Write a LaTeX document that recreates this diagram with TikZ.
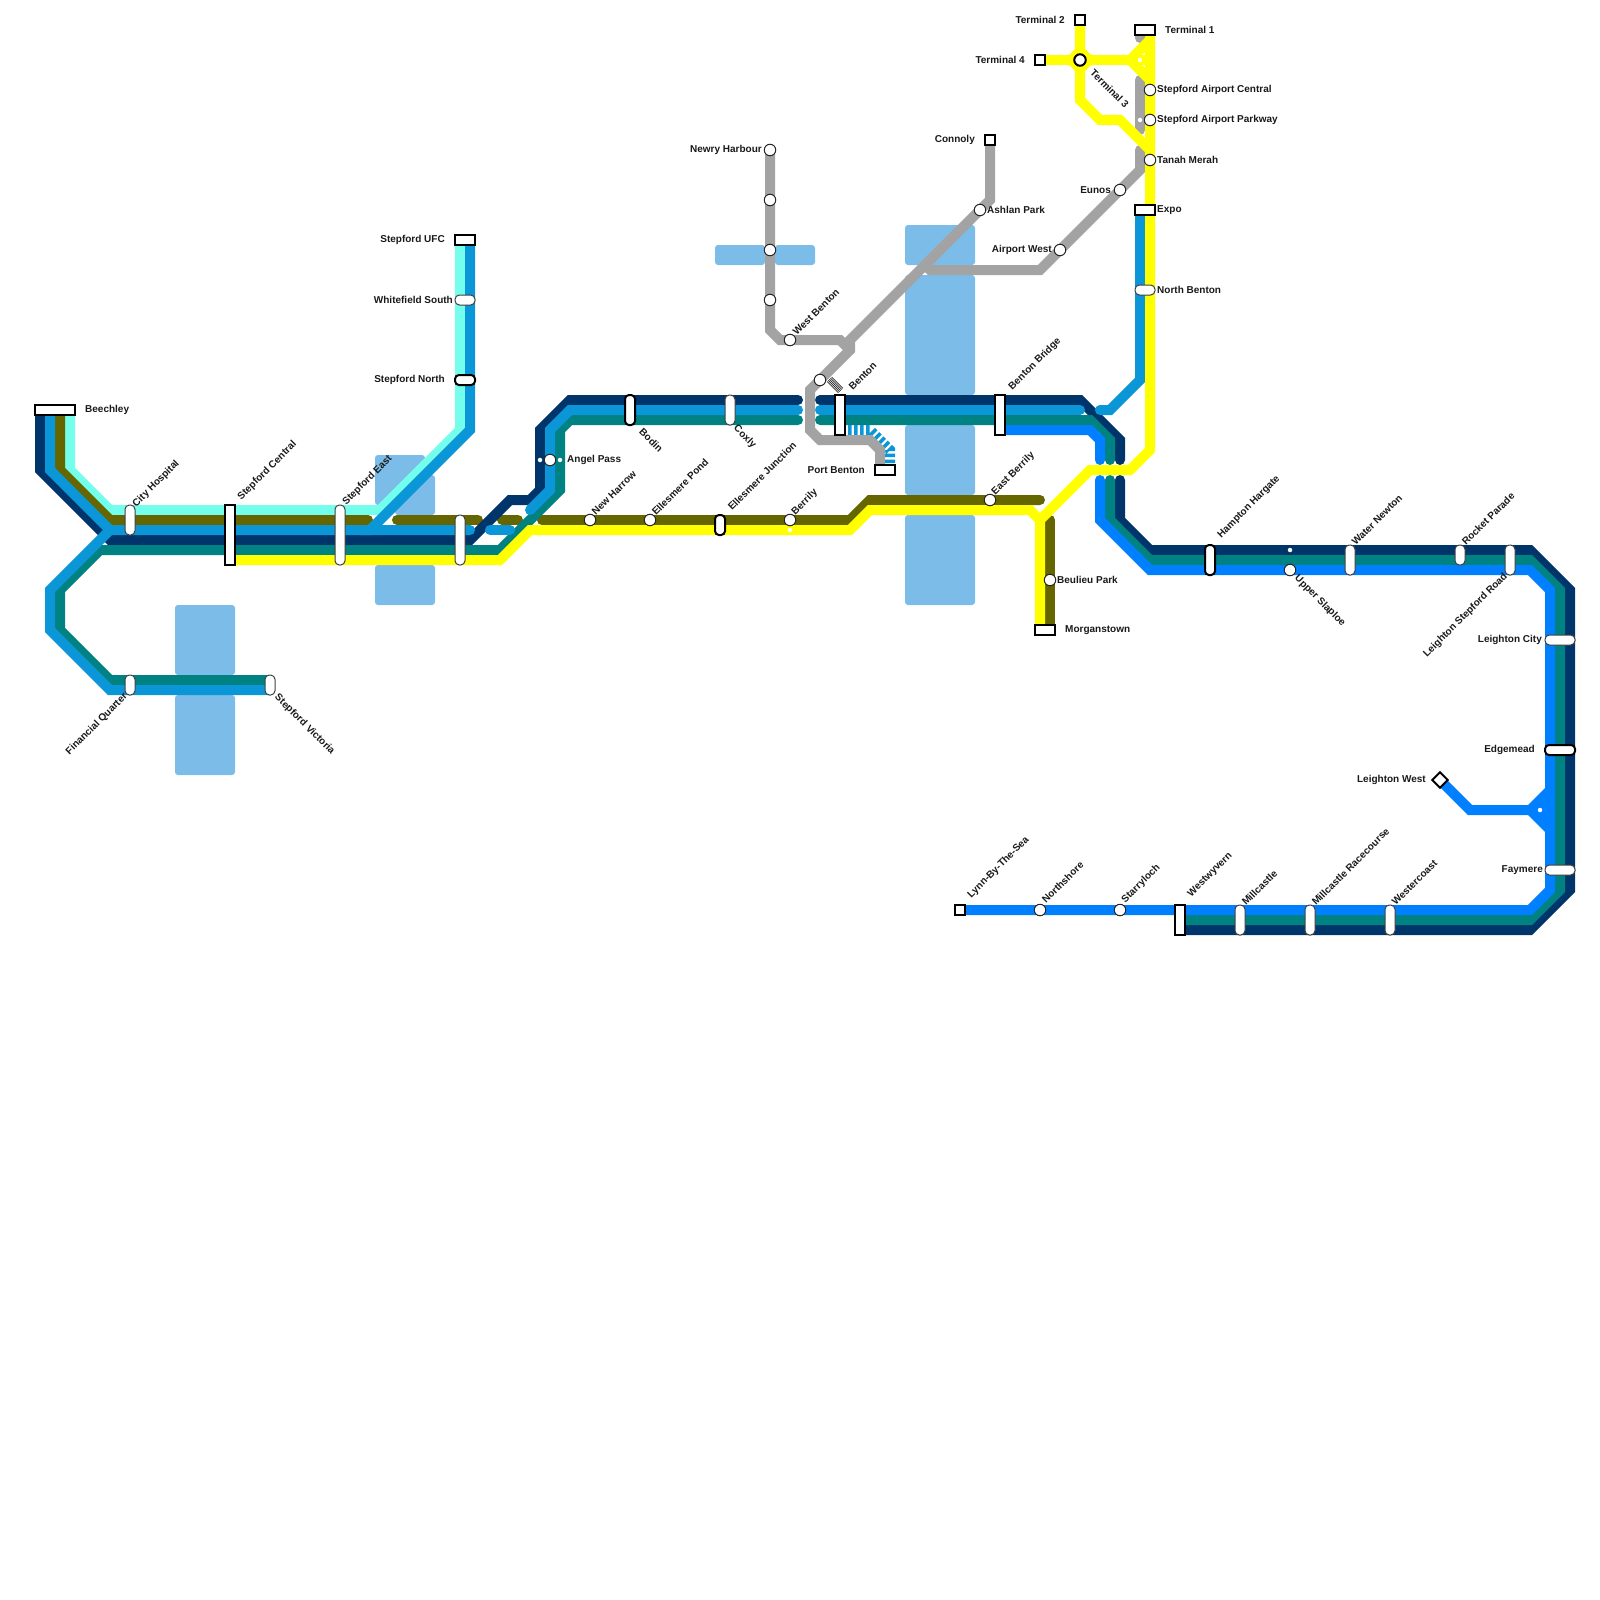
\documentclass[tikz,border=0pt]{standalone}
\usepackage{fontspec}
\setmainfont{Liberation Sans}
\definecolor{mapnavy}{RGB}{0,53,107}
\definecolor{mapblue}{RGB}{10,150,215}
\definecolor{mapbright}{RGB}{0,128,255}
\definecolor{mapolive}{RGB}{102,102,0}
\definecolor{mapaqua}{RGB}{115,255,235}
\definecolor{mapteal}{RGB}{0,130,130}
\definecolor{mapyellow}{RGB}{255,255,0}
\definecolor{mapgrey}{RGB}{163,163,163}
\definecolor{maplake}{RGB}{124,188,232}
\tikzset{
  ln/.style={draw=#1,line width=10pt,line cap=round,miter limit=10},
  lake/.style={fill=maplake,rounded corners=3pt},
  stnc/.style={circle,draw=black!85,line width=1pt,fill=white,minimum size=11.5pt,inner sep=0pt},
  stnt/.style={stnc,draw=black,line width=2pt},
  stnb/.style={rectangle,draw=black,line width=2pt,fill=white,inner sep=0pt},
  pill/.style={rectangle,rounded corners=4.4pt,draw=black!75,line width=1pt,fill=white,inner sep=0pt},
  pillk/.style={pill,rounded corners=3.9pt,draw=black,line width=2pt},
  wdot/.style={circle,fill=white,minimum size=4.5pt,inner sep=0pt},
  lbl/.style={font=\bfseries\fontsize{10}{10}\selectfont,text=black!90,inner sep=0pt},
  lblw/.style={lbl,anchor=west,yshift=-1pt},
  lble/.style={lbl,anchor=east,yshift=-1pt},
  lblup/.style={lbl,anchor=west,rotate=45,xshift=2pt},
  lbldn/.style={lbl,anchor=west,rotate=-45},
  lblex/.style={lbl,anchor=east,rotate=45},
}
\begin{document}
\begin{tikzpicture}[x=1pt,y=-1pt]
  \useasboundingbox (0,0) rectangle (1600,1600);
  % water
  \foreach \xa/\ya/\xb/\yb in {175/605/235/675, 175/695/235/775, 375/455/425/505,
      395/475/435/515, 375/565/435/605, 715/245/765/265, 775/245/815/265,
      905/225/975/265, 905/275/975/395, 905/425/975/495, 905/515/975/605}
    \fill[lake] (\xa,\ya) rectangle (\xb,\yb);

  % lines
  \draw[ln=mapaqua] (70,410) -- (70,470) -- (110,510) -- (380,510) -- (460,430) -- (460,240);
  \draw[ln=mapolive] (60,410) -- (60,470) -- (110,520) -- (368,520);
  \draw[ln=mapolive] (397,520) -- (478,520);
  \draw[ln=mapolive] (502,520) -- (518,520);
  \draw[ln=mapolive] (542,520) -- (850,520) -- (870,500) -- (1040,500);
  \draw[ln=mapolive] (1050,520) -- (1050,630);
  \draw[ln=mapnavy] (40,410) -- (40,470) -- (110,540) -- (470,540) -- (510,500) -- (530,500)
    -- (540,490) -- (540,430) -- (570,400) -- (798,400);
  \draw[ln=mapnavy] (820,400) -- (1080,400) -- (1120,440) -- (1120,460);
  \draw[ln=mapnavy] (1120,480) -- (1120,520) -- (1150,550) -- (1530,550) -- (1570,590)
    -- (1570,890) -- (1530,930) -- (1180,930);
  \draw[ln=mapteal] (500,550) -- (100,550) -- (60,590) -- (60,630) -- (110,680) -- (270,680);
  \draw[ln=mapteal] (500,550) -- (560,490) -- (560,430) -- (570,420) -- (798,420);
  \draw[ln=mapteal] (820,420) -- (1090,420) -- (1110,440) -- (1110,460);
  \draw[ln=mapteal] (1110,480) -- (1110,520) -- (1150,560) -- (1530,560) -- (1560,590)
    -- (1560,890) -- (1530,920) -- (1180,920);
  \draw[ln=mapblue] (50,410) -- (50,470) -- (110,530) -- (470,530);
  \draw[ln=mapblue] (270,690) -- (110,690) -- (50,630) -- (50,590) -- (110,530);
  \draw[ln=mapblue] (470,240) -- (470,430) -- (370,530) -- (360,530);
  \draw[ln=mapblue] (490,530) -- (510,530);
  \draw[ln=mapblue] (530,510) -- (550,490) -- (550,430) -- (570,410) -- (798,410);
  \draw[ln=mapblue] (820,410) -- (1080,410);
  \draw[ln=mapblue] (1100,410) -- (1110,410) -- (1140,380) -- (1140,215);
  \draw[ln=mapblue,line cap=butt,dash pattern=on 3.5pt off 2.5pt] (842,430) -- (870,430) -- (890,450) -- (890,465);
  \draw[ln=mapbright] (1000,430) -- (1090,430) -- (1100,440) -- (1100,460);
  \draw[ln=mapbright] (1100,480) -- (1100,520) -- (1150,570) -- (1530,570) -- (1550,590)
    -- (1550,890) -- (1530,910) -- (960,910);
  \draw[ln=mapbright] (1440,780) -- (1470,810) -- (1535,810);
  \fill[mapbright] (1528,805) -- (1545,788) -- (1550,788) -- (1550,832) -- (1545,832) -- (1528,815) -- cycle;
  \draw[ln=mapgrey] (770,150) -- (770,330) -- (780,340) -- (840,340) -- (850,350);
  \draw[ln=mapgrey] (990,140) -- (990,200) -- (850,340) -- (850,350) -- (810,390) -- (810,430)
    -- (820,440) -- (870,440) -- (880,450) -- (880,470);
  \draw[ln=mapgrey] (925,265) -- (930,270) -- (1040,270) -- (1140,170) -- (1140,150);
  \draw[ln=mapgrey] (1140,35) -- (1140,38);
  \draw[ln=mapgrey] (1140,80) -- (1140,130);
  \draw[ln=mapyellow] (230,560) -- (500,560) -- (530,530) -- (850,530) -- (870,510) -- (1030,510)
    -- (1040,520) -- (1040,630);
  \draw[ln=mapyellow] (1040,520) -- (1090,470) -- (1130,470) -- (1150,450) -- (1150,30);
  \draw[ln=mapyellow] (1080,20) -- (1080,100) -- (1100,120) -- (1120,120) -- (1150,150);
  \draw[ln=mapyellow] (1040,60) -- (1150,60);
  \draw[ln=mapyellow] (1130,60) -- (1150,40);
  \draw[ln=mapyellow] (1130,60) -- (1150,80);
  \fill[mapyellow] (1064,60) -- (1080,44) -- (1096,60) -- (1080,76) -- cycle;
  \draw[draw=black!85,line width=16pt,dash pattern=on .8pt off .8pt] (832.5,387.5) -- (837.5,382.5);

  % stations
  \foreach \n/\x/\y in {angel/550/460, newharrow/590/520, ellpond/650/520, berrily/790/520,
      newry/770/150, newryb/770/200, newryc/770/250, newryd/770/300, westbenton/790/340,
      bentonn/820/380, eastberrily/990/500, beulieu/1050/580, ashlan/980/210, airportw/1060/250,
      eunos/1120/190, airportc/1150/90, airportp/1150/120, tanah/1150/160,
      northshore/1040/910, starryloch/1120/910, upper/1290/570}
    \node[stnc] (\n) at (\x,\y) {};
  \node[stnt] (term3) at (1080,60) {};
  \foreach \n/\x/\y/\w/\h in {beechley/55/410/40/10, stepcentral/230/535/10/60, stepufc/465/240/20/10,
      benton/840/415/10/40, bentonbr/1000/415/10/40, portbenton/885/470/20/10, connoly/990/140/10/10,
      term2/1080/20/10/10, term4/1040/60/10/10, term1/1145/30/20/10, expo/1145/210/20/10,
      morgan/1045/630/20/10, lynn/960/910/10/10, westwyvern/1180/920/10/30}
    \node[stnb,minimum width=\w,minimum height=\h] (\n) at (\x,\y) {};
  \foreach \n/\x/\y/\w/\h in {cityhosp/130/520/10/30, stepeast/340/535/10/60, stepmid/460/540/10/50,
      coxly/730/410/10/30, financial/130/685/10/20, stepvic/270/685/10/20, whitefield/465/300/20/10,
      northbenton/1145/290/20/10, waternewton/1350/560/10/30, rocket/1460/555/10/20,
      leightonrd/1510/560/10/30, leightonc/1560/640/30/10, faymere/1560/870/30/10,
      millcastle/1240/920/10/30, millrace/1310/920/10/30, westercoast/1390/920/10/30}
    \node[pill,minimum width=\w,minimum height=\h] (\n) at (\x,\y) {};
  \foreach \n/\x/\y/\w/\h in {stepnorth/465/380/20/10, bodin/630/410/10/30, elljunc/720/525/10/20,
      hampton/1210/560/10/30, edgemead/1560/750/30/10}
    \node[pillk,minimum width=\w,minimum height=\h] (\n) at (\x,\y) {};
  \node[stnb,rotate=45,minimum size=11pt] (leightonw) at (1440,780) {};
  \foreach \n/\x/\y in {da/540/460, db/560/460, dc/790/530, dd/1140/60, de/1140/120, df/1290/550, dg/1540/810}
    \node[wdot] (\n) at (\x,\y) {};

  % labels
  \foreach \n/\x/\y/\t in {beechley/85/409/Beechley, term1/1165/29/Terminal 1,
      airportc/1157/89/Stepford Airport Central, airportp/1157/119/Stepford Airport Parkway,
      tanah/1157/159/Tanah Merah, expo/1157/209/Expo, northbenton/1157/289/North Benton,
      angel/567/459/Angel Pass, ashlan/987/209/Ashlan Park, beulieu/1057/579/Beulieu Park,
      morgan/1065/629/Morganstown}
    \node[lblw] (\n-t) at (\x,\y) {\t};
  \foreach \n/\x/\y/\t in {stepufc/445/239/Stepford UFC, whitefield/453/299/Whitefield South,
      stepnorth/445/379/Stepford North, term2/1065/19/Terminal 2, term4/1025/59/Terminal 4,
      connoly/975/139/Connoly, newry/762/149/Newry Harbour, eunos/1111/189/Eunos,
      airportw/1052/249/Airport West, portbenton/865/469/Port Benton, leightonc/1542/639/Leighton City,
      edgemead/1535/749/Edgemead, leightonw/1426/779/Leighton West, faymere/1543/869/Faymere}
    \node[lble] (\n-t) at (\x,\y) {\t};
  \foreach \n/\x/\y/\t in {cityhosp/133/507/City Hospital, stepcentral/238/500/Stepford Central,
      stepeast/343/505/Stepford East, newharrow/592/515/New Harrow, ellpond/652/515/Ellesmere Pond,
      elljunc/728/510/Ellesmere Junction, berrily/792/515/Berrily, westbenton/793/335/West Benton,
      benton/849/390/Benton, bentonbr/1009/390/Benton Bridge, eastberrily/992/495/East Berrily,
      hampton/1218/538/Hampton Hargate, waternewton/1352/545/Water Newton, rocket/1462/545/Rocket Parade,
      lynn/968/898/Lynn-By-The-Sea, northshore/1042/903/Northshore, starryloch/1122/903/Starryloch,
      westwyvern/1188/897/Westwyvern, millcastle/1242/905/Millcastle,
      millrace/1312/905/Millcastle Racecourse, westercoast/1392/905/Westercoast}
    \node[lblup] (\n-t) at (\x,\y) {\t};
  \foreach \n/\x/\y/\t in {bodin/641/430/Bodin, coxly/735/427/Coxly, stepvic/276/696/Stepford Victoria,
      term3/1092/71/Terminal 3, upper/1296/577/Upper Slaploe}
    \node[lbldn] (\n-t) at (\x,\y) {\t};
  \node[lblex] (financial-t) at (126,695) {Financial Quarter};
  \node[lblex] (leightonrd-t) at (1506,575) {Leighton Stepford Road};
\end{tikzpicture}
\end{document}
